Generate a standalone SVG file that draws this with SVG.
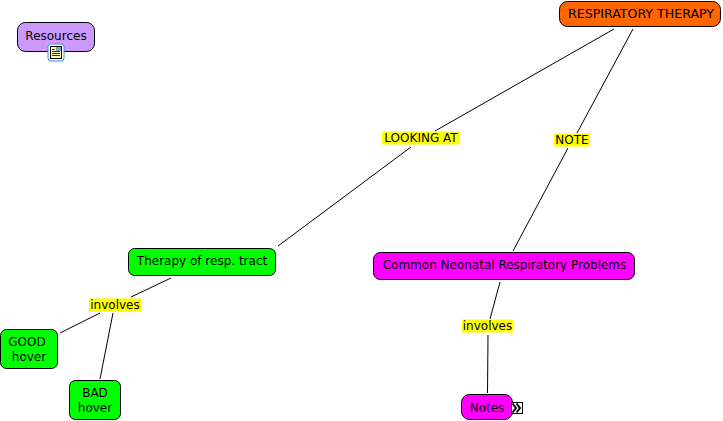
<svg xmlns="http://www.w3.org/2000/svg" width="723" height="421" viewBox="0 0 723 421">
<style>
text{font-family:"DejaVu Sans",Verdana,sans-serif;font-size:12px;fill:#000;text-anchor:middle}
.n{stroke:#000;stroke-width:1}
.g{fill:#00ff00}.m{fill:#ff00ff}
.l{fill:#ffff00}
#connectors line{stroke:#000;stroke-width:1;fill:none}
</style>
<rect width="723" height="421" fill="#fff"/>
<g id="connectors">
<line x1="614" y1="29" x2="435" y2="131"/>
<line x1="411" y1="147" x2="278" y2="246"/>
<line x1="633" y1="29" x2="577" y2="133"/>
<line x1="568" y1="148" x2="513" y2="251"/>
<line x1="171" y1="278" x2="131" y2="297"/>
<line x1="100" y1="313" x2="60" y2="333"/>
<line x1="113" y1="313" x2="100" y2="379"/>
<line x1="500" y1="282" x2="490" y2="319"/>
<line x1="488" y1="335" x2="487.500" y2="393"/>
</g>
<g id="label-looking"><rect class="l" x="382" y="131.500" width="78" height="13"/><text x="421" y="142">LOOKING AT</text></g>
<g id="label-note"><rect class="l" x="554" y="133.500" width="36" height="13"/><text x="572" y="144">NOTE</text></g>
<g id="label-involves1"><rect class="l" x="89" y="298.500" width="52" height="13"/><text x="115" y="309">involves</text></g>
<g id="label-involves2"><rect class="l" x="462" y="319.500" width="51" height="13"/><text x="487.500" y="330">involves</text></g>
<g id="resp"><rect class="n" x="559.500" y="1.500" width="161" height="25" rx="8" fill="#ff6600"/><text x="641" y="18" textLength="146" lengthAdjust="spacingAndGlyphs">RESPIRATORY THERAPY</text></g>
<g id="resources"><rect class="n" x="17.500" y="22.500" width="77" height="29" rx="8" fill="#cc99ff"/><text x="56" y="40">Resources</text>
<rect x="48" y="44" width="16" height="17" rx="3" fill="#fff" stroke="#3f8fe0" stroke-width="1"/><rect x="50.500" y="46.500" width="11" height="12" fill="#ffffb0" stroke="#000" stroke-width="1"/><path d="M52 49.500h3M52 51.500h8M52 53.500h8M52 55.500h8" stroke="#333" stroke-width="1"/><rect x="56" y="47" width="5" height="4" fill="#7aa0c8"/></g>
<g id="therapy"><rect class="n g" x="128.500" y="248.500" width="147" height="27" rx="6"/><text x="202" y="265">Therapy of resp. tract</text></g>
<g id="good"><rect class="n g" x="0.500" y="329.500" width="57" height="39" rx="6"/><text x="27" y="346">GOOD</text><text x="29" y="361">hover</text></g>
<g id="bad"><rect class="n g" x="69.500" y="380.500" width="51" height="39" rx="6"/><text x="95" y="397">BAD</text><text x="95" y="412">hover</text></g>
<g id="common"><rect class="n m" x="373.500" y="252.500" width="261" height="27" rx="7"/><text x="504.500" y="269">Common Neonatal Respiratory Problems</text></g>
<g id="notes"><rect class="n m" x="461.500" y="394.500" width="51" height="25" rx="8"/><text x="487" y="412">Notes</text>
<rect x="511.500" y="402.500" width="11" height="11" fill="#fff" stroke="#000"/><path d="M512.500 403.500l3.500 4.500-3.500 4.500M516.500 403.500l3.500 4.500-3.500 4.500" fill="none" stroke="#000" stroke-width="2"/></g>
</svg>
